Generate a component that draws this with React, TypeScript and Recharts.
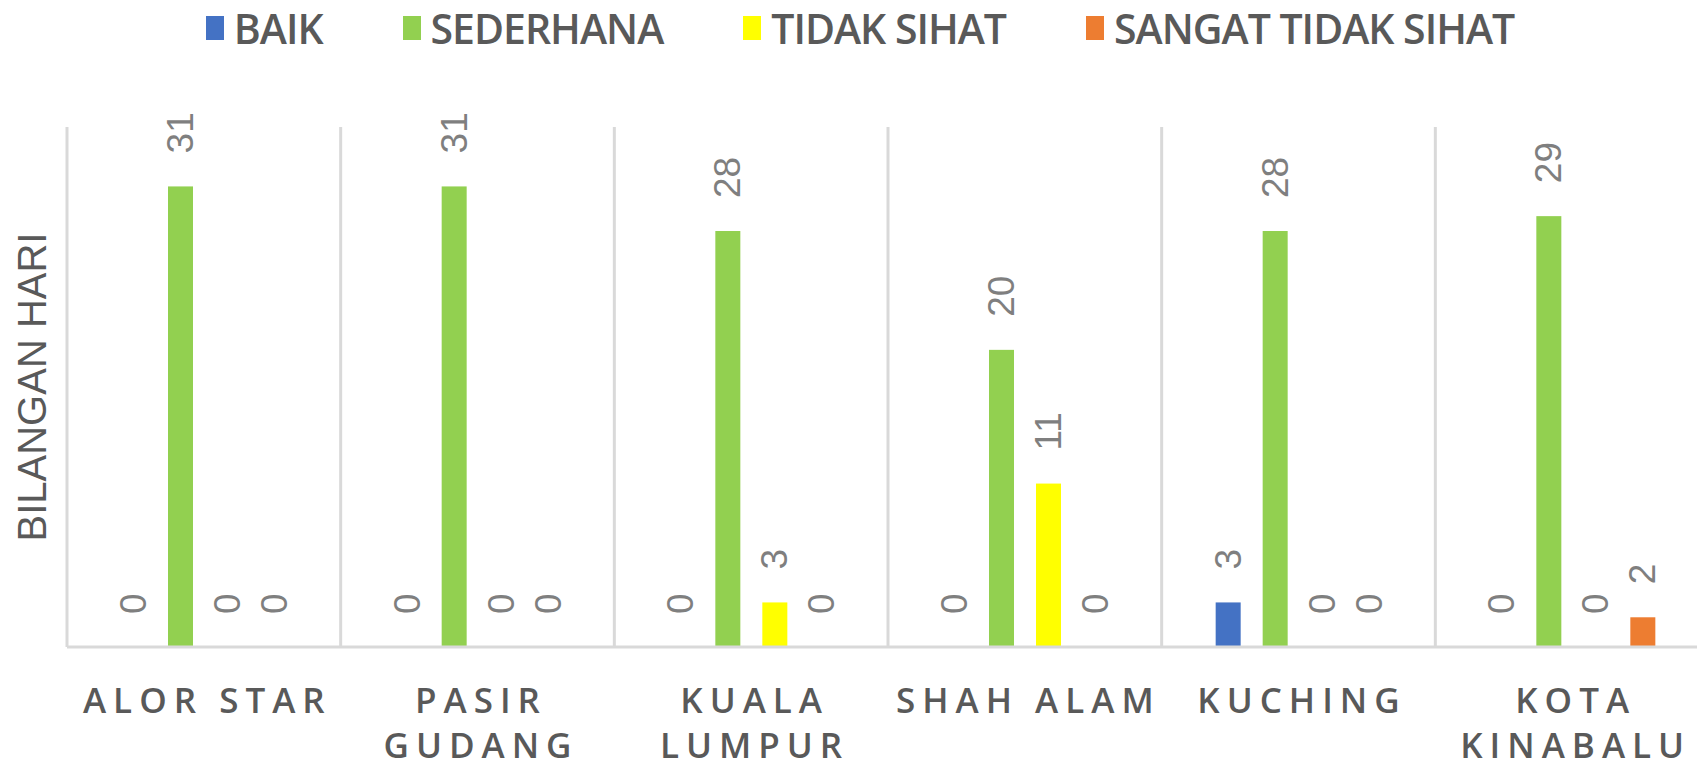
import { Bar, BarChart, CartesianGrid, XAxis, YAxis } from 'recharts'

const cities = ['ALOR STAR', 'PASIR GUDANG', 'KUALA LUMPUR', 'SHAH ALAM', 'KUCHING', 'KOTA KINABALU']
const baik = [0, 0, 0, 0, 3, 0]
const sederhana = [31, 31, 28, 20, 28, 29]
const tidakSihat = [0, 0, 3, 11, 0, 0]
const sangatTidakSihat = [0, 0, 0, 0, 0, 2]

const seriesDefs = [
  { key: 'baik', name: 'BAIK', color: '#4472C4' },
  { key: 'sederhana', name: 'SEDERHANA', color: '#92D050' },
  { key: 'tidakSihat', name: 'TIDAK SIHAT', color: '#FFFF00' },
  { key: 'sangatTidakSihat', name: 'SANGAT TIDAK SIHAT', color: '#ED7D31' },
]

const data = cities.map((city, i) => ({
  city,
  baik: baik[i],
  sederhana: sederhana[i],
  tidakSihat: tidakSihat[i],
  sangatTidakSihat: sangatTidakSihat[i],
}))

const CHART_W = 1720
const CHART_H = 768
const TICK_SPACING = 7

function CityTick(props: any) {
  const { x, y, payload } = props
  const text: string = payload.value
  const lines = text.length > 10 ? text.split(' ') : [text]
  return (
    <g>
      {lines.map((line, i) => (
        <text
          key={line}
          x={x + TICK_SPACING / 2}
          y={y + 66 + i * 45}
          textAnchor="middle"
          fill="#595959"
          fontFamily="'Open Sans', sans-serif"
          fontWeight={600}
          fontSize={35}
          letterSpacing={TICK_SPACING}
        >
          {line}
        </text>
      ))}
    </g>
  )
}

// bar rect plus its rotated value label (zero bars still get their "0")
function barShape(dataKey: string) {
  return (props: any) => {
    const { x, y, width, height, fill, payload } = props
    const cx = x + width / 2
    const ly = y - 33
    return (
      <g>
        {height > 0 && <rect x={x} y={y} width={width} height={height} fill={fill} />}
        <text
          x={cx}
          y={ly}
          transform={`rotate(-90, ${cx}, ${ly})`}
          textAnchor="start"
          dominantBaseline="central"
          fill="#7F7F7F"
          fontFamily="'Liberation Sans', Arial, sans-serif"
          fontSize={37}
        >
          {payload[dataKey]}
        </text>
      </g>
    )
  }
}

function AxisTitle(props: any) {
  const { viewBox } = props
  const cx = viewBox.x + 32
  const cy = viewBox.y + viewBox.height / 2
  return (
    <text
      x={cx}
      y={cy}
      transform={`rotate(-90, ${cx}, ${cy})`}
      textAnchor="middle"
      dominantBaseline="central"
      fill="#595959"
      fontFamily="'Liberation Sans', Arial, sans-serif"
      fontSize={40}
    >
      BILANGAN HARI
    </text>
  )
}

export default function App() {
  return (
    <div
      style={{
        position: 'absolute',
        left: 0,
        top: 0,
        width: 1697,
        height: 768,
        overflow: 'hidden',
        background: '#fff',
      }}
    >
      <div
        style={{
          position: 'absolute',
          left: 0,
          top: 3,
          width: CHART_W,
          height: 50,
          display: 'flex',
          justifyContent: 'center',
          alignItems: 'center',
          gap: 80,
          fontFamily: "'Open Sans', sans-serif",
          fontWeight: 600,
          fontSize: 41,
          lineHeight: '41px',
          letterSpacing: -1,
          color: '#595959',
          zIndex: 2,
        }}
      >
        {seriesDefs.map((s) => (
          <span key={s.key} style={{ display: 'flex', alignItems: 'center', gap: 10 }}>
            <span style={{ display: 'inline-block', width: 18, height: 24, background: s.color }} />
            {s.name}
          </span>
        ))}
      </div>
      <BarChart
        width={CHART_W}
        height={CHART_H}
        data={data}
        margin={{ top: 127, right: 11, bottom: 8, left: 0 }}
        barSize={25}
        barGap={22}
      >
        <CartesianGrid
          horizontal={false}
          stroke="#D9D9D9"
          strokeWidth={3}
          verticalCoordinatesGenerator={({ offset }: any) =>
            cities.map((_, i) => offset.left + (i * offset.width) / cities.length).concat([offset.left + offset.width])
          }
        />
        <XAxis
          dataKey="city"
          interval={0}
          height={113}
          tickLine={false}
          tickSize={0}
          tickMargin={0}
          axisLine={{ stroke: '#D9D9D9', strokeWidth: 3 }}
          tick={<CityTick />}
        />
        <YAxis
          width={67}
          domain={[0, 35]}
          tick={false}
          axisLine={false}
          tickLine={false}
          label={<AxisTitle />}
        />
        {seriesDefs.map((s) => (
          <Bar
            key={s.key}
            dataKey={s.key}
            name={s.name}
            fill={s.color}
            shape={barShape(s.key)}
            isAnimationActive={false}
          />
        ))}
      </BarChart>
    </div>
  )
}
